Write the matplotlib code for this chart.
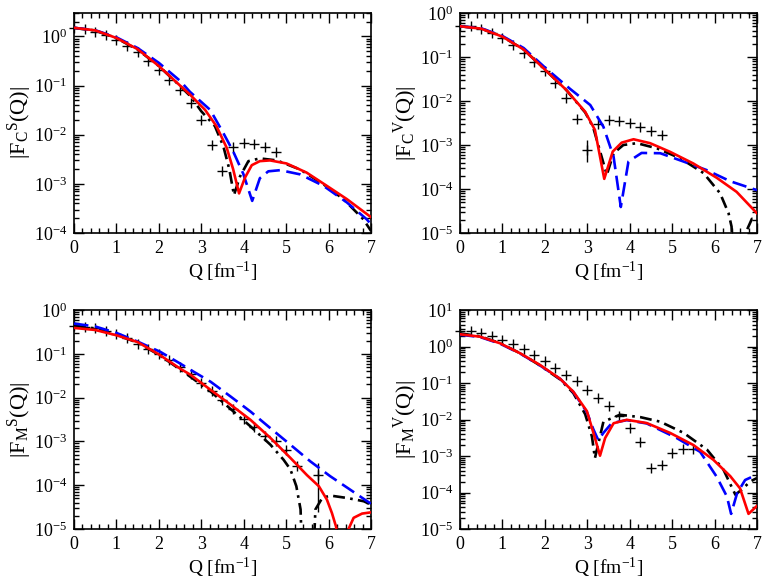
import numpy as np
import matplotlib
matplotlib.use("Agg")
import matplotlib.pyplot as plt
from matplotlib.ticker import LogLocator, MultipleLocator, LogFormatterMathtext, NullFormatter

plt.rcParams['font.family'] = ['Liberation Serif', 'DejaVu Serif']
plt.rcParams['mathtext.fontset'] = 'custom'
plt.rcParams['mathtext.rm'] = 'Liberation Serif'
plt.rcParams['mathtext.it'] = 'Liberation Serif:italic'
plt.rcParams['mathtext.bf'] = 'Liberation Serif:bold'

# ---- |F_C^S| (top left) ----
fcs_q_exp = [0, 0.25, 0.5, 0.75, 1.0, 1.25, 1.5, 1.75, 2.0, 2.25, 2.5, 2.75, 3.0, 3.25, 3.5, 3.75, 4.0, 4.25, 4.5, 4.75]
fcs_exp = [1.5, 1.45, 1.25, 1.06, 0.86, 0.65, 0.48, 0.32, 0.21, 0.13, 0.080, 0.044, 0.020, 0.0062, 0.0018,
           0.0056, 0.0068, 0.0066, 0.0056, 0.0045]
fcs_q_red = [0, 0.5, 1.0, 1.5, 2.0, 2.5, 2.73, 3.09, 3.36, 3.60, 3.75, 3.89, 4.03, 4.19, 4.38, 4.62, 5.01, 5.48, 5.96, 6.43, 7.0]
fcs_red = [1.5, 1.33, 0.93, 0.55, 0.25, 0.10, 0.066, 0.032, 0.0148, 0.0054, 0.0020, 0.00064, 0.00134, 0.0024,
           0.0029, 0.0030, 0.0026, 0.0017, 0.00091, 0.00049, 0.00021]
fcs_q_blue = [0, 0.5, 1.0, 1.5, 2.0, 2.5, 2.73, 3.21, 3.52, 3.75, 3.99, 4.20, 4.38, 4.58, 4.86, 5.33, 5.88, 6.43, 6.90, 7.0]
fcs_blue = [1.5, 1.34, 0.96, 0.58, 0.29, 0.125, 0.075, 0.032, 0.0108, 0.0046, 0.0016, 0.00045, 0.0013, 0.0018,
            0.0019, 0.00156, 0.00091, 0.00042, 0.00019, 0.00015]
fcs_q_black = [0, 0.5, 1.0, 1.5, 2.0, 2.5, 2.75, 3.0, 3.32, 3.52, 3.66, 3.77, 3.91, 4.11, 4.38, 4.78, 5.33, 5.88, 6.35, 6.82, 7.0]
fcs_black = [1.5, 1.32, 0.92, 0.54, 0.25, 0.098, 0.060, 0.030, 0.015, 0.0058, 0.0020, 0.00059, 0.0014, 0.0029,
             0.0033, 0.0030, 0.00196, 0.00098, 0.00049, 0.00019, 0.00011]

# ---- |F_C^V| (top right) ----
fcv_q_exp = [0, 0.25, 0.5, 0.75, 1.0, 1.25, 1.5, 1.75, 2.0, 2.25, 2.5, 2.75, 3.0, 3.25, 3.5, 3.75, 4.0, 4.25, 4.5, 4.75]
fcv_exp = [0.5, 0.50, 0.44, 0.35, 0.27, 0.19, 0.123, 0.078, 0.047, 0.025, 0.012, 0.0039, 0.00075, 0.0030, 0.0037,
           0.0035, 0.0031, 0.0026, 0.0021, 0.0017]
fcv_err_q = [3.0]
fcv_err_val = [0.00075]
fcv_err_lo = [0.00033]
fcv_err_hi = [0.00055]
fcv_q_red = [0, 0.5, 1.0, 1.5, 2.0, 2.5, 2.95, 3.18, 3.40, 3.60, 3.81, 4.09, 4.48, 4.95, 5.50, 6.05, 6.52, 7.0]
fcv_red = [0.5, 0.44, 0.29, 0.148, 0.052, 0.018, 0.0057, 0.0022, 0.00017, 0.00071, 0.00113, 0.00135, 0.0011,
           0.0007, 0.00038, 0.00018, 0.000086, 0.000028]
fcv_q_blue = [0, 0.5, 1.0, 1.5, 2.0, 2.59, 3.07, 3.38, 3.62, 3.79, 3.97, 4.28, 4.72, 5.27, 5.81, 6.37, 7.0]
fcv_blue = [0.5, 0.45, 0.30, 0.16, 0.058, 0.019, 0.0081, 0.0026, 0.00054, 0.000039, 0.00042, 0.00066, 0.00065,
            0.00042, 0.00027, 0.00015, 0.000094]
fcv_q_black = [0, 0.5, 1.0, 1.5, 2.0, 2.5, 2.95, 3.14, 3.46, 3.62, 3.85, 4.17, 4.64, 5.19, 5.74, 6.13, 6.33, 6.40,
               6.50, 6.68, 6.75, 6.88, 7.0]
fcv_black = [0.5, 0.44, 0.29, 0.148, 0.052, 0.018, 0.0055, 0.0025, 0.00021, 0.00065, 0.0010, 0.0011, 0.00084,
             0.0005, 0.00023, 0.00008, 0.000028, 0.000014, 1e-7, 1e-7, 0.000011, 0.000021, 0.000020]

# ---- |F_M^S| (bottom left) ----
fms_q_exp = [0, 0.25, 0.5, 0.75, 1.0, 1.25, 1.5, 1.75, 2.0, 2.25, 2.5, 2.75, 3.0, 3.25, 3.5, 3.75, 4.0, 4.25, 4.5,
             4.75, 5.0, 5.25, 5.75]
fms_exp = [0.44, 0.42, 0.38, 0.33, 0.28, 0.23, 0.17, 0.13, 0.098, 0.072, 0.051, 0.034, 0.022, 0.0138, 0.0088,
           0.0055, 0.0032, 0.0021, 0.0013, 0.0010, 0.00063, 0.00028, 0.000174]
fms_err_q = [5.75]
fms_err_val = [0.000174]
fms_err_lo = [0.00015]
fms_err_hi = [0.00015]
fms_q_red = [0, 0.5, 1.0, 1.5, 2.0, 2.5, 2.75, 3.22, 3.69, 4.16, 4.63, 5.10, 5.49, 5.77, 5.96, 6.08, 6.18, 6.30,
             6.40, 6.45, 6.59, 6.79, 7.0]
fms_red = [0.39, 0.35, 0.265, 0.185, 0.097, 0.046, 0.033, 0.015, 0.0069, 0.0031, 0.0012, 0.00042, 0.00017,
           0.000095, 0.000047, 0.000023, 0.000011, 1e-7, 1e-7, 0.000009, 0.000018, 0.0000225, 0.000024]
fms_q_blue = [0, 0.5, 1.0, 1.5, 2.04, 2.5, 2.82, 3.22, 3.69, 4.16, 4.63, 5.10, 5.57, 6.04, 6.51, 6.91, 7.0]
fms_blue = [0.49, 0.42, 0.30, 0.19, 0.11, 0.060, 0.039, 0.023, 0.0106, 0.0048, 0.0020, 0.00084, 0.00035,
            0.00016, 0.000079, 0.000043, 0.000038]
fms_q_black = [0, 0.5, 1.0, 1.5, 2.0, 2.5, 2.74, 3.22, 3.69, 4.16, 4.63, 4.94, 5.10, 5.24, 5.34, 5.42, 5.58,
               5.69, 5.85, 6.04, 6.44, 6.83, 7.0]
fms_black = [0.44, 0.38, 0.27, 0.18, 0.095, 0.044, 0.030, 0.0138, 0.0055, 0.0022, 0.00084, 0.00038, 0.00023,
             0.000095, 0.000028, 1e-7, 1e-7, 0.000028, 0.000051, 0.000058, 0.000051, 0.000043, 0.000036]

# ---- |F_M^V| (bottom right) ----
fmv_q_exp = [0, 0.25, 0.5, 0.75, 1.0, 1.25, 1.5, 1.75, 2.0, 2.25, 2.5, 2.75, 3.0, 3.25, 3.5, 3.75, 4.0, 4.25, 4.5,
             4.75, 5.0, 5.25, 5.5]
fmv_exp = [2.7, 2.66, 2.3, 2.0, 1.5, 1.15, 0.86, 0.59, 0.40, 0.26, 0.17, 0.11, 0.066, 0.040, 0.023, 0.0125,
           0.0058, 0.0024, 0.00047, 0.00057, 0.0012, 0.00155, 0.00155]
fmv_q_red = [0, 0.47, 0.94, 1.42, 1.89, 2.36, 2.67, 2.99, 3.14, 3.30, 3.42, 3.62, 3.93, 4.40, 4.95, 5.50, 5.97,
             6.37, 6.60, 6.80, 7.0]
fmv_red = [2.16, 1.86, 1.23, 0.65, 0.31, 0.13, 0.058, 0.017, 0.0045, 0.00102, 0.0031, 0.0079, 0.0098, 0.0080,
           0.0043, 0.0020, 0.00079, 0.00028, 0.00013, 0.000026, 0.000043]
fmv_q_blue = [0, 0.47, 0.94, 1.42, 1.89, 2.36, 2.67, 2.99, 3.14, 3.26, 3.38, 3.58, 3.93, 4.40, 5.11, 5.66, 6.05,
              6.29, 6.39, 6.53, 6.72, 7.0]
fmv_blue = [2.1, 1.82, 1.20, 0.64, 0.30, 0.13, 0.057, 0.016, 0.0055, 0.0027, 0.0043, 0.0080, 0.0096, 0.0078,
            0.0031, 0.0013, 0.00027, 0.000078, 0.000026, 0.000095, 0.00022, 0.00031]
fmv_q_black = [0, 0.47, 0.94, 1.42, 1.89, 2.36, 2.67, 2.95, 3.11, 3.18, 3.38, 3.77, 4.25, 4.72, 5.27, 5.82, 6.21,
               6.49, 6.64, 6.84, 7.0]
fmv_black = [2.3, 1.9, 1.24, 0.65, 0.30, 0.125, 0.053, 0.014, 0.0034, 0.00087, 0.0087, 0.0135, 0.0116, 0.0087,
             0.0043, 0.0015, 0.00042, 0.000087, 0.00012, 0.00020, 0.00025]


def draw_panel(ax, q_exp, f_exp, q_red, f_red, q_blue, f_blue, q_black, f_black, ylim, ylabel, err=None):
    ax.plot(q_exp, f_exp, linestyle='none', marker='+', color='black', markersize=7, markeredgewidth=1.0,
            clip_on=False, zorder=3)
    if err is not None:
        eq, ev, elo, ehi = err
        ax.errorbar(eq, ev, yerr=[elo, ehi], fmt='none', ecolor='black', elinewidth=1.0, capsize=0, zorder=3)
    ax.plot(q_black, f_black, color='black', lw=1.9, dashes=(4.5, 2.0, 1.0, 2.0), zorder=4)
    ax.plot(q_blue, f_blue, color='#0000ff', lw=1.9, dashes=(5.5, 2.5), zorder=4)
    ax.plot(q_red, f_red, color='#ff0000', lw=1.9, zorder=5)

    ax.set_yscale('log')
    ax.set_xlim(0, 7)
    ax.set_ylim(*ylim)
    ax.xaxis.set_major_locator(MultipleLocator(1))
    ax.xaxis.set_minor_locator(MultipleLocator(0.2))
    ax.yaxis.set_major_locator(LogLocator(base=10, numticks=20))
    ax.yaxis.set_minor_locator(LogLocator(base=10, subs=np.arange(2, 10), numticks=50))
    ax.yaxis.set_major_formatter(LogFormatterMathtext())
    ax.yaxis.set_minor_formatter(NullFormatter())
    ax.tick_params(which='both', direction='in', top=True, right=True, labelsize=13, width=1.0)
    ax.tick_params(which='major', length=7, pad=5)
    ax.tick_params(which='minor', length=3.5)
    for sp in ax.spines.values():
        sp.set_linewidth(1.2)
    ax.set_xlabel(r'Q [fm$^{-1}$]', fontsize=14, labelpad=2)
    ax.set_ylabel(ylabel, fontsize=16, labelpad=0)


fig = plt.figure(figsize=(7.63, 5.84), dpi=100)
ax1 = fig.add_axes([74 / 763, 1 - 233 / 584, 297 / 763, 220 / 584])
ax2 = fig.add_axes([460 / 763, 1 - 233 / 584, 297 / 763, 220 / 584])
ax3 = fig.add_axes([74 / 763, 1 - 529 / 584, 297 / 763, 219 / 584])
ax4 = fig.add_axes([460 / 763, 1 - 529 / 584, 297 / 763, 219 / 584])

draw_panel(ax1, fcs_q_exp, fcs_exp, fcs_q_red, fcs_red, fcs_q_blue, fcs_blue, fcs_q_black, fcs_black,
           (1e-4, 3), r'|F$_\mathrm{C}{}^\mathrm{S}$(Q)|')
draw_panel(ax2, fcv_q_exp, fcv_exp, fcv_q_red, fcv_red, fcv_q_blue, fcv_blue, fcv_q_black, fcv_black,
           (1e-5, 1), r'|F$_\mathrm{C}{}^\mathrm{V}$(Q)|', err=(fcv_err_q, fcv_err_val, fcv_err_lo, fcv_err_hi))
draw_panel(ax3, fms_q_exp, fms_exp, fms_q_red, fms_red, fms_q_blue, fms_blue, fms_q_black, fms_black,
           (1e-5, 1), r'|F$_\mathrm{M}{}^\mathrm{S}$(Q)|', err=(fms_err_q, fms_err_val, fms_err_lo, fms_err_hi))
draw_panel(ax4, fmv_q_exp, fmv_exp, fmv_q_red, fmv_red, fmv_q_blue, fmv_blue, fmv_q_black, fmv_black,
           (1e-5, 10), r'|F$_\mathrm{M}{}^\mathrm{V}$(Q)|')

fig.savefig('out.png', dpi=100)
